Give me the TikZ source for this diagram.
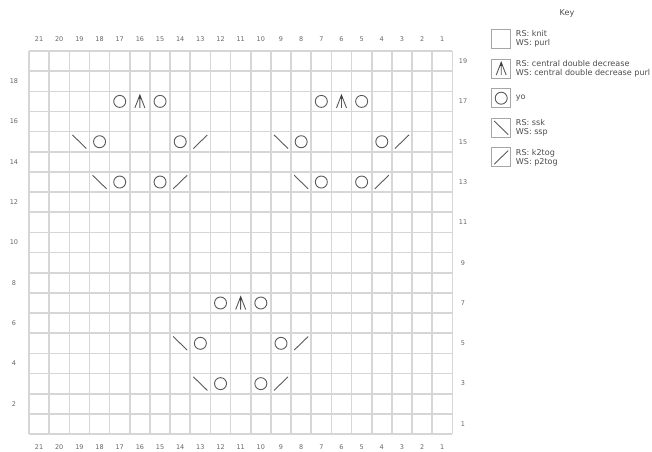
\documentclass[tikz,border=0pt]{standalone}
\usepackage{fontspec}
\setmainfont{DejaVu Sans}
\newcommand\gcx{29}
\newcommand\gcy{51}
\newcommand\gcs{20.16}
\newcommand\kyo[2]{\draw[sym] ({\gcx+(21.5-#1)*\gcs},{\gcy+(19.5-#2)*\gcs}) circle[radius=6];}
\newcommand\kcddat[2]{\begin{scope}[shift={(#1,#2)}]
  \draw[sym] (-5,6.5) -- (0,-6.3) -- (5,6.5) (0,-6.3) -- (0,6.5);
  \fill[black!75] (0,-6.8) -- (-1.5,-2.8) -- (1.5,-2.8) -- cycle;
\end{scope}}
\newcommand\kcdd[2]{\kcddat{{\gcx+(21.5-#1)*\gcs}}{{\gcy+(19.5-#2)*\gcs}}}
\newcommand\ksskat[2]{\draw[sym,shift={(#1,#2)}] (-7,-6.8) -- (7,6.8);}
\newcommand\kssk[2]{\ksskat{{\gcx+(21.5-#1)*\gcs}}{{\gcy+(19.5-#2)*\gcs}}}
\newcommand\kktogat[2]{\draw[sym,shift={(#1,#2)}] (-7,6.8) -- (7,-6.8);}
\newcommand\kktog[2]{\kktogat{{\gcx+(21.5-#1)*\gcs}}{{\gcy+(19.5-#2)*\gcs}}}
\begin{document}
\begin{tikzpicture}[x=1bp,y=-1bp,
  gridl/.style={draw=black!16, line width=1.6bp},
  sym/.style={draw=black!65, line width=0.9bp},
  lab/.style={font=\fontsize{6.5}{7}\selectfont, text=black!60, inner sep=0},
  keybox/.style={draw=black!35, line width=0.8bp, minimum size=19bp, inner sep=0},
  keyt/.style={font=\fontsize{8.1}{9}\selectfont, text=black!70, anchor=west, align=left, inner sep=0}]
\useasboundingbox (0,0) rectangle (652,452);
% grid
\foreach \i in {0,...,21} \draw[gridl] ({\gcx+\i*\gcs},\gcy) -- ({\gcx+\i*\gcs},{\gcy+19*\gcs});
\foreach \j in {0,...,19} \draw[gridl] (\gcx,{\gcy+\j*\gcs}) -- ({\gcx+21*\gcs},{\gcy+\j*\gcs});
% column labels
\foreach \c in {1,...,21} {
  \node[lab] (ct\c) at ({\gcx+(21.5-\c)*\gcs},39) {\c};
  \node[lab] (cb\c) at ({\gcx+(21.5-\c)*\gcs},447) {\c};
}
% row labels
\foreach \r in {2,4,...,18} \node[lab] (rl\r) at (14,{\gcy+(19.5-\r)*\gcs}) {\r};
\foreach \r in {1,3,...,19} \node[lab] (rr\r) at (463,{\gcy+(19.5-\r)*\gcs}) {\r};
% row 17
\kyo{17}{17} \kcdd{16}{17} \kyo{15}{17}
\kyo{7}{17} \kcdd{6}{17} \kyo{5}{17}
% row 15
\kssk{19}{15} \kyo{18}{15} \kyo{14}{15} \kktog{13}{15}
\kssk{9}{15} \kyo{8}{15} \kyo{4}{15} \kktog{3}{15}
% row 13
\kssk{18}{13} \kyo{17}{13} \kyo{15}{13} \kktog{14}{13}
\kssk{8}{13} \kyo{7}{13} \kyo{5}{13} \kktog{4}{13}
% row 7
\kyo{12}{7} \kcdd{11}{7} \kyo{10}{7}
% row 5
\kssk{14}{5} \kyo{13}{5} \kyo{9}{5} \kktog{8}{5}
% row 3
\kssk{13}{3} \kyo{12}{3} \kyo{10}{3} \kktog{9}{3}
% key
\node[keyt, anchor=center] (keytitle) at (567,13) {Key};
\node[keybox] (k1) at (501.2,39) {};
\node[keybox] (k2) at (501.2,68.6) {};
\node[keybox] (k3) at (501.2,98.2) {};
\node[keybox] (k4) at (501.2,127.8) {};
\node[keybox] (k5) at (501.2,157.4) {};
\kcddat{501.2}{68.6}
\draw[sym] (k3.center) circle[radius=6];
\ksskat{501.2}{127.8}
\kktogat{501.2}{157.4}
\node[keyt] (t1) at (515.7,39) {RS: knit\\WS: purl};
\node[keyt] (t2) at (515.7,68.6) {RS: central double decrease\\WS: central double decrease purl};
\node[keyt] (t3) at (515.7,98.2) {yo};
\node[keyt] (t4) at (515.7,127.8) {RS: ssk\\WS: ssp};
\node[keyt] (t5) at (515.7,157.4) {RS: k2tog\\WS: p2tog};
\end{tikzpicture}
\end{document}
